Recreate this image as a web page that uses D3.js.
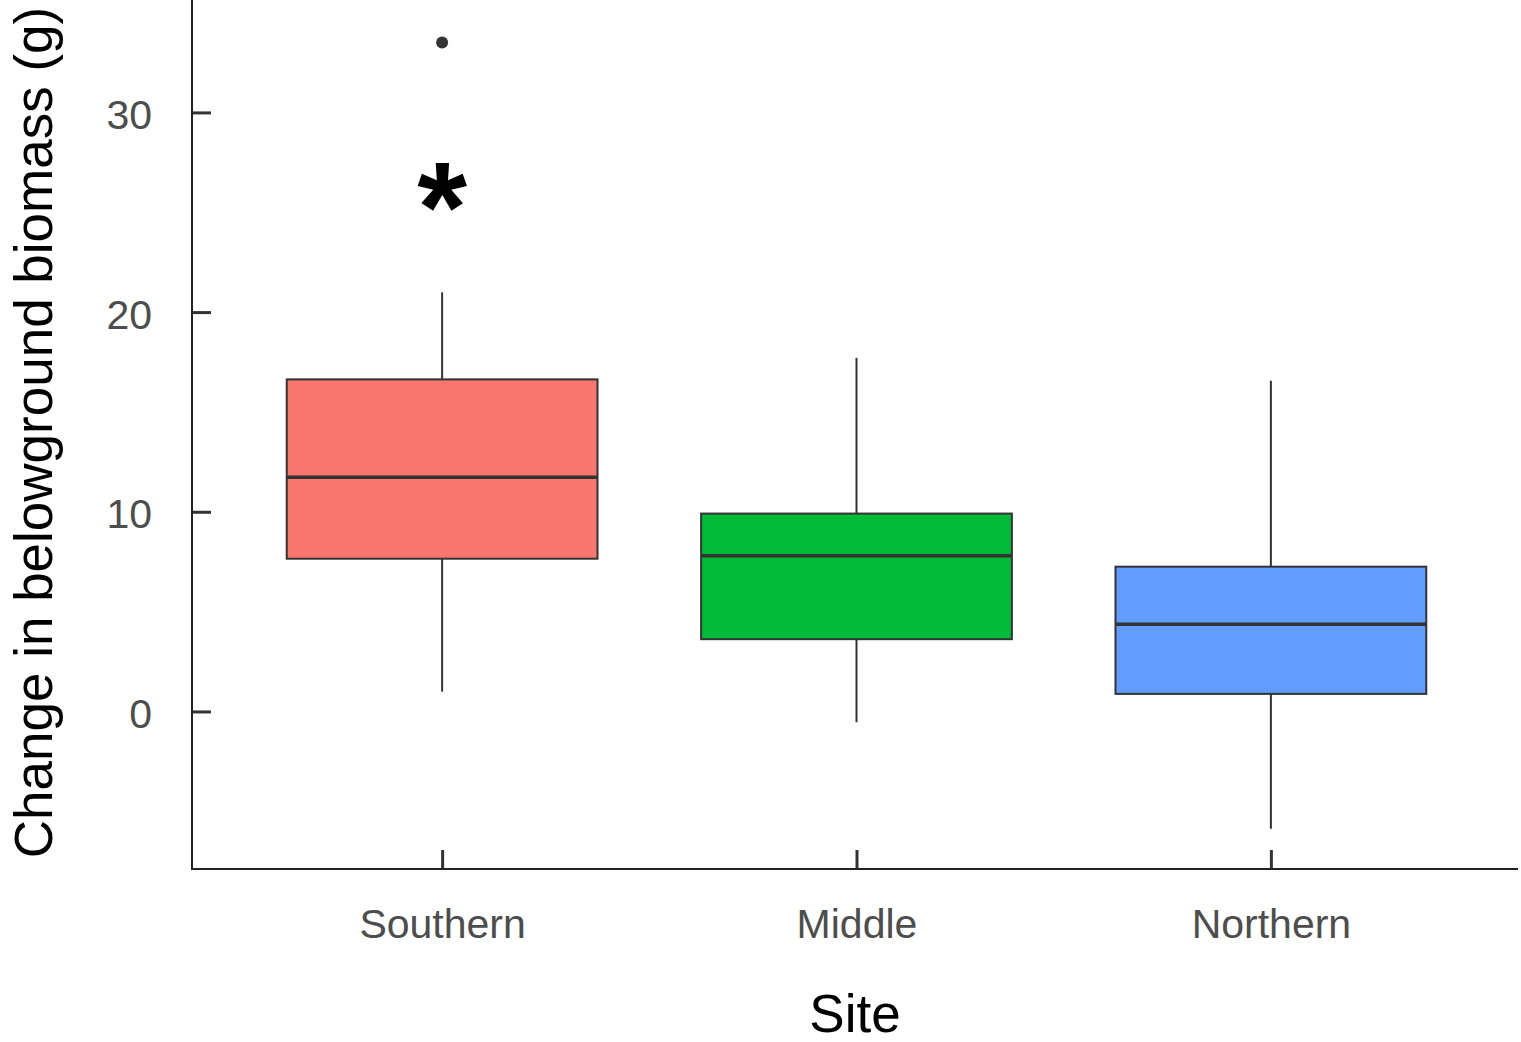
<!DOCTYPE html>
<html>
<head>
<meta charset="utf-8">
<script src="https://cdn.jsdelivr.net/npm/d3@7"></script>
<style>
  html, body { margin: 0; padding: 0; background: #fff; }
  svg { display: block; font-family: "Liberation Sans", Arial, sans-serif; }
  .tick-label { fill: #4d4d4d; font-size: 41px; }
  .axis-title { fill: #000; font-size: 53px; }
</style>
</head>
<body>
<div id="chart"></div>
<script>
// data
const sites = ["Southern", "Middle", "Northern"];
const whiskerLow = [0.99, -0.54, -5.87];
const q1 = [7.65, 3.62, 0.88];
const median = [11.73, 7.80, 4.37];
const q3 = [16.63, 9.91, 7.25];
const whiskerHigh = [20.99, 17.71, 16.56];
const outlierSites = ["Southern"];
const outlierValues = [33.5];
const yTickValues = [0, 10, 20, 30];
const markSites = ["Southern"];
const markValues = [26.2];
const markLabels = ["*"];
const fills = ["#F8766D", "#00BA38", "#619CFF"];

(function () {
  "use strict";

  const W = 1521, H = 1042;
  const left = 192, right = 1518, top = 0, bottom = 869;

  const svg = d3.select("#chart").append("svg")
    .attr("width", W)
    .attr("height", H);

  const x = d3.scalePoint()
    .domain(sites)
    .range([left + 1.5, right + 1.5])
    .padding(0.6);

  const y = d3.scaleLinear()
    .domain([-7.89, 35.63])
    .range([bottom, top]);

  const boxW = x.step() * 0.75;

  const rows = sites.map((s, i) => ({
    site: s, lo: whiskerLow[i], q1: q1[i], med: median[i], q3: q3[i], hi: whiskerHigh[i], fill: fills[i]
  }));

  const boxes = svg.append("g").selectAll("g.box")
    .data(rows)
    .join("g")
    .attr("class", "box");

  // whiskers
  boxes.append("line")
    .attr("x1", d => x(d.site)).attr("x2", d => x(d.site))
    .attr("y1", d => y(d.hi)).attr("y2", d => y(d.q3))
    .attr("stroke", "#333").attr("stroke-width", 2);
  boxes.append("line")
    .attr("x1", d => x(d.site)).attr("x2", d => x(d.site))
    .attr("y1", d => y(d.q1)).attr("y2", d => y(d.lo))
    .attr("stroke", "#333").attr("stroke-width", 2);

  boxes.append("rect")
    .attr("x", d => x(d.site) - boxW / 2)
    .attr("width", boxW)
    .attr("y", d => y(d.q3))
    .attr("height", d => y(d.q1) - y(d.q3))
    .attr("fill", d => d.fill)
    .attr("stroke", "#333")
    .attr("stroke-width", 2);

  boxes.append("line")
    .attr("x1", d => x(d.site) - boxW / 2).attr("x2", d => x(d.site) + boxW / 2)
    .attr("y1", d => y(d.med)).attr("y2", d => y(d.med))
    .attr("stroke", "#333").attr("stroke-width", 3.5);

  // outliers
  svg.append("g").selectAll("circle")
    .data(outlierSites.map((s, i) => ({ site: s, value: outlierValues[i] })))
    .join("circle")
    .attr("cx", d => x(d.site))
    .attr("cy", d => y(d.value))
    .attr("r", 6)
    .attr("fill", "#333");

  // significance mark
  svg.append("g").selectAll("text")
    .data(markSites.map((s, i) => ({ site: s, value: markValues[i], label: markLabels[i] })))
    .join("text")
    .attr("x", d => x(d.site))
    .attr("y", d => y(d.value))
    .attr("dy", "0.49em")
    .attr("text-anchor", "middle")
    .attr("font-weight", "bold")
    .attr("font-size", 128)
    .attr("fill", "#000")
    .text(d => d.label);

  // axes
  const yAxis = svg.append("g")
    .attr("transform", `translate(${left},0)`)
    .call(d3.axisLeft(y).tickValues(yTickValues).tickSize(-19).tickSizeOuter(0).tickPadding(0));
  yAxis.select(".domain").remove();
  yAxis.selectAll(".tick line").attr("stroke", "#333").attr("stroke-width", 3);
  yAxis.selectAll(".tick text")
    .attr("class", "tick-label")
    .attr("x", -40)
    .attr("dy", 16)
    .attr("text-anchor", "end")
    .attr("font-size", null)
    .attr("font-family", null)
    .attr("fill", null);

  const xAxis = svg.append("g")
    .attr("transform", `translate(0,${bottom})`)
    .call(d3.axisBottom(x).tickSize(-19).tickSizeOuter(0).tickPadding(0));
  xAxis.select(".domain").remove();
  xAxis.selectAll(".tick line").attr("stroke", "#333").attr("stroke-width", 3);
  xAxis.selectAll(".tick text")
    .attr("class", "tick-label")
    .attr("y", 69)
    .attr("dy", null)
    .attr("font-size", null)
    .attr("font-family", null)
    .attr("fill", null);

  // axis lines
  svg.append("line")
    .attr("x1", left).attr("x2", left).attr("y1", top).attr("y2", bottom + 1)
    .attr("stroke", "#222").attr("stroke-width", 2);
  svg.append("line")
    .attr("x1", left - 1).attr("x2", right).attr("y1", bottom).attr("y2", bottom)
    .attr("stroke", "#222").attr("stroke-width", 2);

  // titles
  svg.append("text")
    .attr("class", "axis-title")
    .attr("x", (left + right) / 2)
    .attr("y", 1032)
    .attr("text-anchor", "middle")
    .text("Site");

  svg.append("text")
    .attr("class", "axis-title")
    .attr("transform", `translate(52,${(top + bottom) / 2 - 2}) rotate(-90)`)
    .attr("text-anchor", "middle")
    .text("Change in belowground biomass (g)");
})();
</script>
</body>
</html>
